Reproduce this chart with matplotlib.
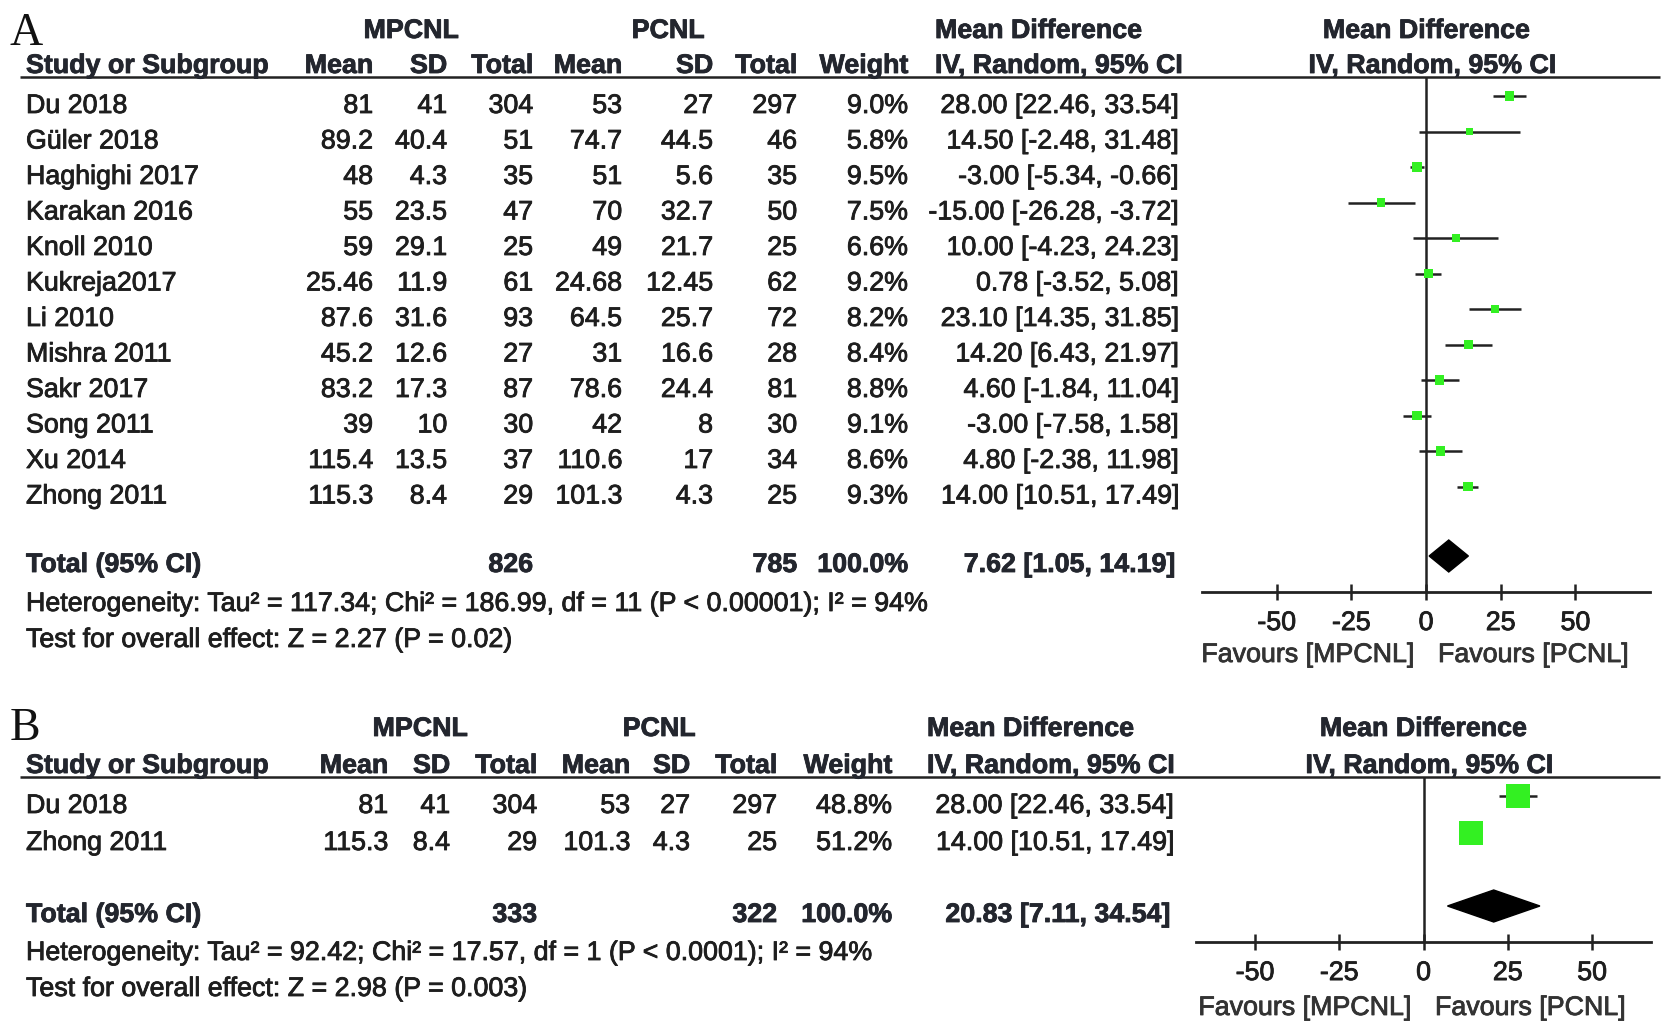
import numpy as np
import matplotlib
matplotlib.use('Agg')
import matplotlib.pyplot as plt
import matplotlib.patheffects as pe

# Panel A data
studies_a = ['Du 2018', 'Güler 2018', 'Haghighi 2017', 'Karakan 2016', 'Knoll 2010',
             'Kukreja2017', 'Li 2010', 'Mishra 2011', 'Sakr 2017', 'Song 2011',
             'Xu 2014', 'Zhong 2011']
mp_mean_a = [81, 89.2, 48, 55, 59, 25.46, 87.6, 45.2, 83.2, 39, 115.4, 115.3]
mp_sd_a = [41, 40.4, 4.3, 23.5, 29.1, 11.9, 31.6, 12.6, 17.3, 10, 13.5, 8.4]
mp_n_a = [304, 51, 35, 47, 25, 61, 93, 27, 87, 30, 37, 29]
pc_mean_a = [53, 74.7, 51, 70, 49, 24.68, 64.5, 31, 78.6, 42, 110.6, 101.3]
pc_sd_a = [27, 44.5, 5.6, 32.7, 21.7, 12.45, 25.7, 16.6, 24.4, 8, 17, 4.3]
pc_n_a = [297, 46, 35, 50, 25, 62, 72, 28, 81, 30, 34, 25]
weight_a = [9.0, 5.8, 9.5, 7.5, 6.6, 9.2, 8.2, 8.4, 8.8, 9.1, 8.6, 9.3]
md_a = [28.00, 14.50, -3.00, -15.00, 10.00, 0.78, 23.10, 14.20, 4.60, -3.00, 4.80, 14.00]
lo_a = [22.46, -2.48, -5.34, -26.28, -4.23, -3.52, 14.35, 6.43, -1.84, -7.58, -2.38, 10.51]
hi_a = [33.54, 31.48, -0.66, -3.72, 24.23, 5.08, 31.85, 21.97, 11.04, 1.58, 11.98, 17.49]
total_a = dict(n1=826, n2=785, md=7.62, lo=1.05, hi=14.19)
het_a = 'Heterogeneity: Tau² = 117.34; Chi² = 186.99, df = 11 (P < 0.00001); I² = 94%'
test_a = 'Test for overall effect: Z = 2.27 (P = 0.02)'

# Panel B data
studies_b = ['Du 2018', 'Zhong 2011']
mp_mean_b = [81, 115.3]
mp_sd_b = [41, 8.4]
mp_n_b = [304, 29]
pc_mean_b = [53, 101.3]
pc_sd_b = [27, 4.3]
pc_n_b = [297, 25]
weight_b = [48.8, 51.2]
md_b = [28.00, 14.00]
lo_b = [22.46, 10.51]
hi_b = [33.54, 17.49]
total_b = dict(n1=333, n2=322, md=20.83, lo=7.11, hi=34.54)
het_b = 'Heterogeneity: Tau² = 92.42; Chi² = 17.57, df = 1 (P < 0.0001); I² = 94%'
test_b = 'Test for overall effect: Z = 2.98 (P = 0.003)'

ticks = [-50, -25, 0, 25, 50]

W, H = 1677, 1031
FS = 19.3
TXT = '#1e1e1e'
HDR = '#23262e'
GREEN = '#33f022'
FONT = 'Liberation Sans'

fig = plt.figure(figsize=(W / 100, H / 100), dpi=100)
fig.patch.set_facecolor('white')
tx = fig.add_axes([0, 0, 1, 1])
tx.set_xlim(0, W)
tx.set_ylim(H, 0)
tx.axis('off')


def t(x, y, s, ha='left', bold=False, size=FS, color=None, family=FONT, heavy=True):
    col = color or (HDR if bold else TXT)
    txt = tx.text(x, y, s, ha=ha, va='baseline', fontsize=size, color=col,
                  fontweight='bold' if bold else 'normal', family=family)
    if heavy:
        txt.set_path_effects([pe.withStroke(linewidth=0.6, foreground=col)])


def fmt(v):
    return f'{v:g}'


def panel(letter, lay, studies, m1, s1, n1, m2, s2, n2, w, md, lo, hi, tot, het, test):
    c = lay['cols']
    # letter
    t(10, lay['letter_y'], letter, size=33, family='Liberation Serif', color='#111111', heavy=False)
    # group headers
    t(lay['grp1'], lay['h1'], 'MPCNL', ha='center', bold=True)
    t(lay['grp2'], lay['h1'], 'PCNL', ha='center', bold=True)
    t(lay['mdx'], lay['h1'], 'Mean Difference', bold=True)
    t(lay['zero_px'], lay['h1'], 'Mean Difference', ha='center', bold=True)
    # column headers
    t(26, lay['h2'], 'Study or Subgroup', bold=True)
    for key, lab in [('m1', 'Mean'), ('s1', 'SD'), ('n1', 'Total'), ('m2', 'Mean'),
                     ('s2', 'SD'), ('n2', 'Total'), ('w', 'Weight')]:
        t(c[key], lay['h2'], lab, ha='right', bold=True)
    t(lay['mdx'], lay['h2'], 'IV, Random, 95% CI', bold=True)
    t(lay['zero_px'] + 6, lay['h2'], 'IV, Random, 95% CI', ha='center', bold=True)
    tx.plot([20, 1660], [lay['line'], lay['line']], color='#222222', lw=1.8,
            solid_capstyle='butt')

    # study rows
    base = [lay['r0'] + i * lay['dr'] for i in range(len(studies))]
    for i, y in enumerate(base):
        t(26, y, studies[i])
        t(c['m1'], y, fmt(m1[i]), ha='right')
        t(c['s1'], y, fmt(s1[i]), ha='right')
        t(c['n1'], y, str(n1[i]), ha='right')
        t(c['m2'], y, fmt(m2[i]), ha='right')
        t(c['s2'], y, fmt(s2[i]), ha='right')
        t(c['n2'], y, str(n2[i]), ha='right')
        t(c['w'], y, f'{w[i]:.1f}%', ha='right')
        t(c['ci'], y, f'{md[i]:.2f} [{lo[i]:.2f}, {hi[i]:.2f}]', ha='right')

    yt = lay['tot']
    t(26, yt, 'Total (95% CI)', bold=True)
    t(c['n1'], yt, str(tot['n1']), ha='right', bold=True)
    t(c['n2'], yt, str(tot['n2']), ha='right', bold=True)
    t(c['w'], yt, '100.0%', ha='right', bold=True)
    t(c['ci'] - 3, yt, f"{tot['md']:.2f} [{tot['lo']:.2f}, {tot['hi']:.2f}]", ha='right', bold=True)
    t(26, lay['het'], het)
    t(26, lay['test'], test)

    # forest plot
    x0, x1 = lay['fx']
    y0, y1 = lay['line'], lay['axis_y']
    ax = fig.add_axes([x0 / W, 1 - y1 / H, (x1 - x0) / W, (y1 - y0) / H])
    ax.patch.set_alpha(0)
    ax.set_xlim(lay['xlim'])
    ax.set_ylim(y1, y0)
    for s in ['top', 'left', 'right']:
        ax.spines[s].set_visible(False)
    ax.spines['bottom'].set_linewidth(2.0)
    ax.spines['bottom'].set_color('#222222')
    ax.set_yticks([])
    ax.set_xticks(ticks)
    labs = ax.set_xticklabels([str(v) for v in ticks], fontsize=FS, family=FONT, color=TXT)
    for lb in labs:
        lb.set_path_effects([pe.withStroke(linewidth=0.6, foreground=TXT)])
    ax.tick_params(axis='x', direction='inout', length=12, width=1.8, pad=7, color='#222222')
    ax.axvline(0, color='#222222', lw=1.8)

    ym = [b - 17 for b in base]
    ax.hlines(ym, lo, hi, color='#222222', lw=1.8, zorder=2)
    side = lay['k'] * np.sqrt(np.array(w))
    ax.scatter(md, ym, s=(side * 0.72) ** 2, marker='s', color=GREEN, linewidths=0,
               zorder=3, clip_on=False)
    yd = yt - 16
    hd = 16
    ax.fill([tot['lo'], tot['md'], tot['hi'], tot['md']], [yd, yd - hd, yd, yd + hd],
            color='black', zorder=3, clip_on=False)

    zp = lay['zero_px']
    t(zp - 12, lay['fav'], 'Favours [MPCNL]', ha='right', color='#333333')
    t(zp + 12, lay['fav'], 'Favours [PCNL]', color='#333333')


lay_a = dict(letter_y=45, h1=38, h2=73, line=77, r0=113, dr=35.5, tot=572, het=611, test=647,
             grp1=411, grp2=668, mdx=935,
             cols=dict(m1=373, s1=447, n1=533, m2=622, s2=713, n2=797, w=908, ci=1178),
             fx=(1202, 1650), xlim=(-75, 75), axis_y=592, zero_px=1426, fav=662, k=3.1)
lay_b = dict(letter_y=740, h1=736, h2=773, line=777, r0=813, dr=37, tot=922, het=960, test=996,
             grp1=420, grp2=659, mdx=927,
             cols=dict(m1=388, s1=450, n1=537, m2=630, s2=690, n2=777, w=892, ci=1173),
             fx=(1196, 1651), xlim=(-67.5, 67.5), axis_y=942, zero_px=1423, fav=1015, k=3.4)

panel('A', lay_a, studies_a, mp_mean_a, mp_sd_a, mp_n_a, pc_mean_a, pc_sd_a, pc_n_a,
      weight_a, md_a, lo_a, hi_a, total_a, het_a, test_a)
panel('B', lay_b, studies_b, mp_mean_b, mp_sd_b, mp_n_b, pc_mean_b, pc_sd_b, pc_n_b,
      weight_b, md_b, lo_b, hi_b, total_b, het_b, test_b)

fig.savefig('out.png', dpi=100, facecolor='white')
